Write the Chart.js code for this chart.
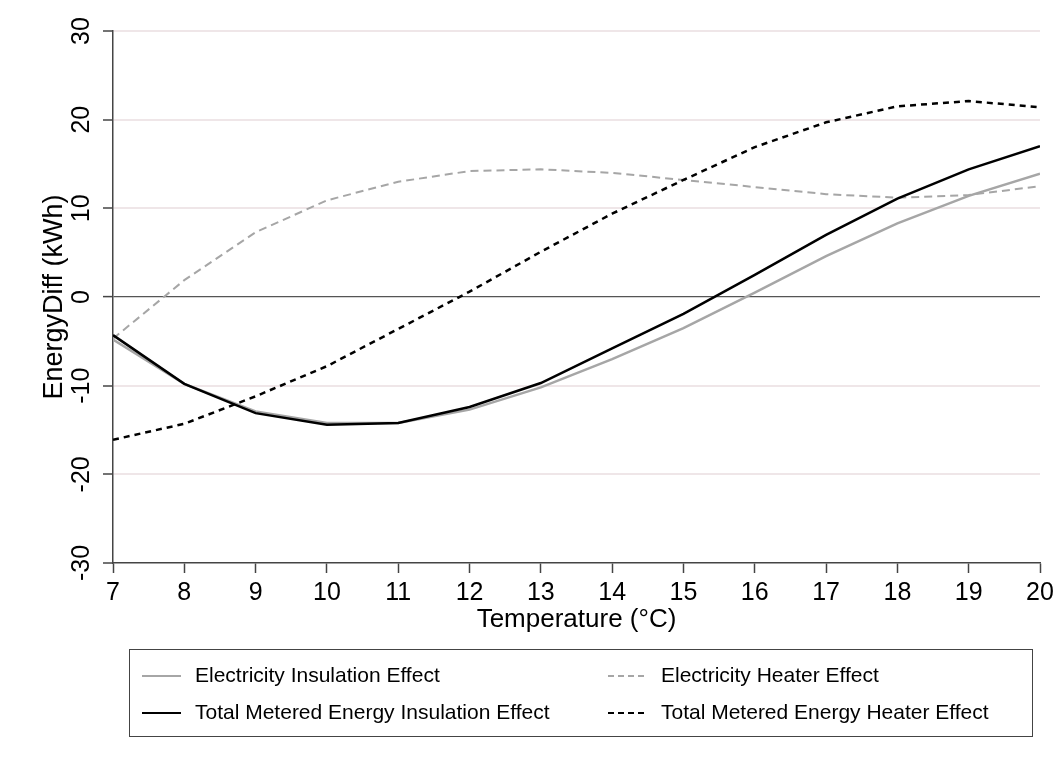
<!DOCTYPE html>
<html>
<head>
<meta charset="utf-8">
<script src="https://cdn.jsdelivr.net/npm/chart.js@4/dist/chart.umd.min.js"></script>
<style>
  body { margin: 0; background: #ffffff; }
  #wrap { width: 1061px; height: 769px; position: relative; }
</style>
</head>
<body>
<div id="wrap"><canvas id="chart1"></canvas></div>
<script>
// values
let temperatures = [7, 8, 9, 10, 11, 12, 13, 14, 15, 16, 17, 18, 19, 20];
let elecInsulation = [-4.8, -9.8, -12.9, -14.2, -14.2, -12.7, -10.2, -7.0, -3.5, 0.5, 4.6, 8.3, 11.4, 13.9];
let elecHeater = [-4.7, 1.9, 7.3, 10.9, 13.0, 14.2, 14.4, 14.0, 13.2, 12.4, 11.6, 11.2, 11.5, 12.5];
let totalInsulation = [-4.3, -9.8, -13.1, -14.4, -14.2, -12.4, -9.7, -5.8, -1.9, 2.5, 7.0, 11.1, 14.4, 17.0];
let totalHeater = [-16.1, -14.3, -11.2, -7.8, -3.6, 0.6, 5.1, 9.4, 13.2, 16.9, 19.7, 21.5, 22.1, 21.4];
let yTicks = [-30, -20, -10, 0, 10, 20, 30];

let seriesNames = [
  'Electricity Insulation Effect',
  'Electricity Heater Effect',
  'Total Metered Energy Insulation Effect',
  'Total Metered Energy Heater Effect'
];

const GRAY = '#a6a6a6';
const FONT = "'Liberation Sans', Arial, sans-serif";

function toPoints(values){
  return temperatures.map(function(t, i){ return {x: t, y: values[i]}; });
}

// legend box drawn by hand, two columns like the original
const boxLegend = {
  id: 'boxLegend',
  afterDraw(chart) {
    const ctx = chart.ctx;
    const items = [
      {name: seriesNames[0], color: GRAY, dash: [], width: 2, x: 142, y: 676},
      {name: seriesNames[1], color: GRAY, dash: [6, 4], width: 2, x: 608, y: 676},
      {name: seriesNames[2], color: '#000', dash: [], width: 2, x: 142, y: 713},
      {name: seriesNames[3], color: '#000', dash: [6, 4], width: 2, x: 608, y: 713}
    ];
    ctx.save();
    ctx.strokeStyle = '#444';
    ctx.lineWidth = 1;
    ctx.strokeRect(129.5, 649.5, 903, 87);
    ctx.font = '21px ' + FONT;
    ctx.textBaseline = 'middle';
    ctx.fillStyle = '#000';
    items.forEach(function(it){
      ctx.beginPath();
      ctx.setLineDash(it.dash);
      ctx.strokeStyle = it.color;
      ctx.lineWidth = it.width;
      ctx.moveTo(it.x, it.y);
      ctx.lineTo(it.x + 39, it.y);
      ctx.stroke();
      ctx.setLineDash([]);
      ctx.fillText(it.name, it.x + 53, it.y);
    });
    ctx.restore();
  }
};

var ctx = document.getElementById('chart1').getContext('2d');
var myChart = new Chart(ctx, {
  type: 'line',
  data: {
    datasets: [
      {
        label: seriesNames[2],
        data: toPoints(totalInsulation),
        borderColor: '#000',
        borderWidth: 2.5,
      },
      {
        label: seriesNames[3],
        data: toPoints(totalHeater),
        borderColor: '#000',
        borderWidth: 2.5,
        borderDash: [6, 5],
      },
      {
        label: seriesNames[0],
        data: toPoints(elecInsulation),
        borderColor: GRAY,
        borderWidth: 2.5,
      },
      {
        label: seriesNames[1],
        data: toPoints(elecHeater),
        borderColor: GRAY,
        borderWidth: 2,
        borderDash: [8, 5],
      },
    ],
  },
  options: {
    responsive: true,
    maintainAspectRatio: false,
    animation: false,
    elements: {
      point: { radius: 0 },
      line: { tension: 0, borderCapStyle: 'butt' }
    },
    layout: {
      padding: { left: 38, right: 21, top: 31, bottom: 134 }
    },
    plugins: {
      legend: { display: false },
      tooltip: { enabled: false }
    },
    scales: {
      x: {
        type: 'linear',
        min: temperatures[0],
        max: temperatures[temperatures.length - 1],
        afterFit: function(scale){ scale.height = 72; },
        afterBuildTicks: function(scale){
          scale.ticks = temperatures.map(function(t){ return {value: t}; });
        },
        border: { color: '#444', width: 1.5 },
        grid: {
          drawOnChartArea: false,
          drawTicks: true,
          tickLength: 10,
          tickColor: '#444',
          tickWidth: 1.5
        },
        ticks: {
          color: '#000',
          padding: 5,
          maxRotation: 0,
          font: { family: FONT, size: 25 }
        },
        title: {
          display: true,
          text: 'Temperature (°C)',
          color: '#000',
          padding: { top: 0, bottom: 0 },
          font: { family: FONT, size: 26 }
        }
      },
      y: {
        min: yTicks[0],
        max: yTicks[yTicks.length - 1],
        afterFit: function(scale){ scale.width = 75; },
        afterBuildTicks: function(scale){
          scale.ticks = yTicks.map(function(v){ return {value: v}; });
        },
        border: { color: '#444', width: 1.5 },
        grid: {
          color: function(c){
            if (c.tick && c.tick.value === 0) return '#555';
            if (c.tick && c.tick.value === -30) return 'rgba(0,0,0,0)';
            return '#efe6e8';
          },
          lineWidth: function(c){
            return (c.tick && c.tick.value === 0) ? 1.2 : 2;
          },
          tickLength: 10,
          tickColor: '#444',
          tickWidth: 1.5
        },
        ticks: {
          color: '#000',
          padding: 3,
          minRotation: 90,
          maxRotation: 90,
          crossAlign: 'center',
          font: { family: FONT, size: 25 }
        },
        title: {
          display: true,
          text: 'EnergyDiff (kWh)',
          color: '#000',
          padding: { top: 0, bottom: 0 },
          font: { family: FONT, size: 27 }
        }
      }
    }
  },
  plugins: [boxLegend]
});
</script>
</body>
</html>
